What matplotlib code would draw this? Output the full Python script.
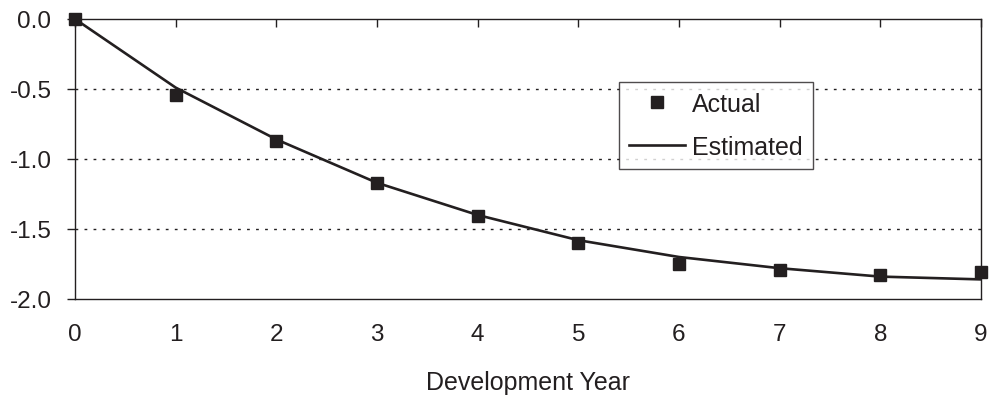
import matplotlib
matplotlib.use('Agg')
import matplotlib.pyplot as plt

plt.rcParams['font.family'] = ['Liberation Sans', 'DejaVu Sans']
plt.rcParams['axes.unicode_minus'] = False

# data
dev_year = [0, 1, 2, 3, 4, 5, 6, 7, 8, 9]
actual = [0.0, -0.54, -0.87, -1.17, -1.41, -1.60, -1.75, -1.79, -1.83, -1.81]
estimated = [0.0, -0.49, -0.86, -1.17, -1.40, -1.58, -1.70, -1.78, -1.84, -1.86]
y_ticks = [0.0, -0.5, -1.0, -1.5, -2.0]

ink = '#231f20'
fs = 17.5

fig = plt.figure(figsize=(9.95, 4.02), dpi=100)
ax = fig.add_axes([75/995, 102/402, 906/995, 280/402])

# dotted gridlines
for yv in y_ticks[1:-1]:
    ax.axhline(yv, color=ink, lw=1.0, ls=(0, (2, 4.5)), zorder=1)

ax.plot(dev_year, estimated, color=ink, lw=1.9, label='Estimated', zorder=2)
ax.plot(dev_year, actual, ls='none', marker='s', ms=9, color=ink,
        label='Actual', zorder=3, clip_on=False)

ax.set_xlim(0, 9)
ax.set_ylim(-2.0, 0.0)
ax.set_xticks(dev_year)
ax.set_yticks(y_ticks)
ax.set_yticklabels([f'{v:.1f}' for v in y_ticks])

for s in ax.spines.values():
    s.set_color(ink)
    s.set_linewidth(1.0)

ax.tick_params(axis='x', bottom=False, top=True, labelbottom=True,
               labeltop=False, direction='in', length=6, width=1.0,
               color=ink, pad=17.5, labelsize=fs, labelcolor=ink)
ax.tick_params(axis='y', direction='out', length=6, width=1.0,
               color=ink, pad=11, labelsize=fs, labelcolor=ink)

ax.set_xlabel('Development Year', fontsize=18, color=ink, labelpad=18)

# legend, Actual first
handles, labels = ax.get_legend_handles_labels()
leg = ax.legend(handles[::-1], labels[::-1], loc='upper left',
                bbox_to_anchor=(0.600, 0.775), borderaxespad=0,
                fontsize=18, frameon=True, fancybox=False,
                edgecolor=ink, handlelength=2.25, handletextpad=0.3,
                borderpad=0.4, labelspacing=0.75)
leg.get_frame().set_linewidth(1.0)
for t in leg.get_texts():
    t.set_color(ink)

fig.savefig('out.png', dpi=100)
